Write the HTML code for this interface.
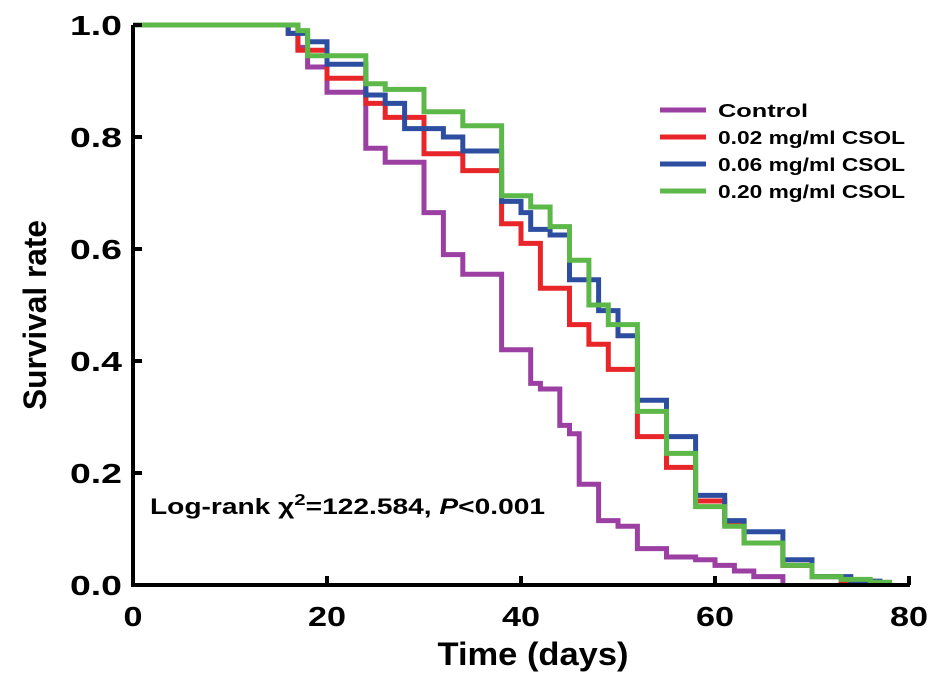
<!DOCTYPE html>
<html><head><meta charset="utf-8"><style>
body{margin:0;background:#fff;width:945px;height:680px;overflow:hidden}
svg text{font-family:"Liberation Sans",Arial,sans-serif;font-weight:bold}
</style></head><body>
<svg id="chart" width="945" height="680"></svg>
<script>
const xTicks=[0,20,40,60,80];
const yTicks=[0.0,0.2,0.4,0.6,0.8,1.0];
const seriesNames=["Control","0.02 mg/ml CSOL","0.06 mg/ml CSOL","0.20 mg/ml CSOL"];
const seriesColors=["#9b3fa3","#e8262a","#2d4ea0","#5cb848"];
const controlT=[0,17,18,20,24,26,30,32,34,38,41,42,44,45,46,48,50,52,55,58,60,62,64,67];
const controlS=[1,0.96,0.925,0.88,0.78,0.755,0.665,0.59,0.555,0.42,0.36,0.35,0.285,0.27,0.18,0.115,0.105,0.065,0.05,0.045,0.035,0.025,0.015,0];
const redT=[0,16,17,20,24,26,30,34,38,40,42,45,47,49,52,55,58,61,63,67,70,73,74];
const redS=[1,0.985,0.955,0.905,0.86,0.835,0.77,0.74,0.645,0.61,0.53,0.465,0.43,0.385,0.265,0.21,0.15,0.11,0.075,0.035,0.015,0.005,0];
const blueT=[0,16,18,20,24,26,28,32,34,38,40,41,43,45,48,50,52,55,58,61,63,67,70,74,77];
const blueS=[1,0.985,0.97,0.93,0.875,0.86,0.815,0.8,0.775,0.685,0.665,0.635,0.625,0.545,0.49,0.445,0.33,0.265,0.16,0.115,0.095,0.045,0.015,0.007,0];
const greenT=[0,17,18,24,26,30,34,38,41,43,45,47,49,52,55,58,61,63,67,70,73,76,78];
const greenS=[1,0.99,0.945,0.895,0.885,0.845,0.82,0.695,0.675,0.64,0.58,0.5,0.465,0.31,0.235,0.14,0.105,0.075,0.035,0.015,0.01,0.005,0];
const seriesT=[controlT,redT,blueT,greenT];
const seriesS=[controlS,redS,blueS,greenS];

const X0=133,X1=909,Y0=585,Y1=25;
const xs=t=>X0+(X1-X0)*t/80;
const ys=v=>Y0-(Y0-Y1)*v;
const svg=document.getElementById('chart');
const NS='http://www.w3.org/2000/svg';
function mk(tag,attrs,parent){const e=document.createElementNS(NS,tag);for(const k in attrs)e.setAttribute(k,attrs[k]);(parent||svg).appendChild(e);return e;}

seriesT.forEach((T,i)=>{
  let d='M'+xs(T[0])+','+ys(seriesS[i][0]);
  for(let j=1;j<T.length;j++){d+=' H'+xs(T[j])+' V'+ys(seriesS[i][j]);}
  const p=mk('path',{d:d,fill:'none',stroke:seriesColors[i],'stroke-width':5});
  
  
});
const ax=mk('path',{d:`M${X0},${Y1} V${Y0} H${X1+1}`,fill:'none',stroke:'#000','stroke-width':4});


xTicks.forEach(t=>{
  const l=mk('line',{x1:xs(t),x2:xs(t),y1:Y0,y2:Y0-9,stroke:'#000','stroke-width':4});
  
  
  const s=String(t);
  const tx=mk('text',{x:xs(t),y:626,'text-anchor':'middle','font-size':28,textLength:s.length*19,lengthAdjust:'spacingAndGlyphs'});
  tx.textContent=s;
  
  
});
yTicks.forEach(v=>{
  const l=mk('line',{x1:X0,x2:X0+9,y1:ys(v),y2:ys(v),stroke:'#000','stroke-width':4});
  
  
  const tx=mk('text',{x:122,y:ys(v)+10,'text-anchor':'end','font-size':28,textLength:52,lengthAdjust:'spacingAndGlyphs'});
  tx.textContent=v.toFixed(1);
  
  
});
const legendLens=[90,187,187,187];
seriesNames.forEach((n,i)=>{
  const y=110+i*27;
  const l=mk('line',{x1:660,x2:706,y1:y,y2:y,stroke:seriesColors[i],'stroke-width':5});
  
  
  const tx=mk('text',{x:718,y:y+7,'font-size':18,textLength:legendLens[i],lengthAdjust:'spacingAndGlyphs'});
  tx.textContent=n;
  
  
});
</script>
<svg width="945" height="680" style="position:absolute;left:0;top:0">
<text x="150" y="514" font-size="22" textLength="395" lengthAdjust="spacingAndGlyphs">Log-rank χ<tspan font-size="16" dy="-9">2</tspan><tspan dy="9">=122.584, </tspan><tspan font-style="italic">P</tspan>&lt;0.001</text>
<text x="533" y="665" text-anchor="middle" font-size="32" textLength="191" lengthAdjust="spacingAndGlyphs">Time (days)</text>
<text x="0" y="0" transform="translate(46,315) rotate(-90)" text-anchor="middle" font-size="32" textLength="190" lengthAdjust="spacingAndGlyphs">Survival rate</text>
</svg>
</body></html>
